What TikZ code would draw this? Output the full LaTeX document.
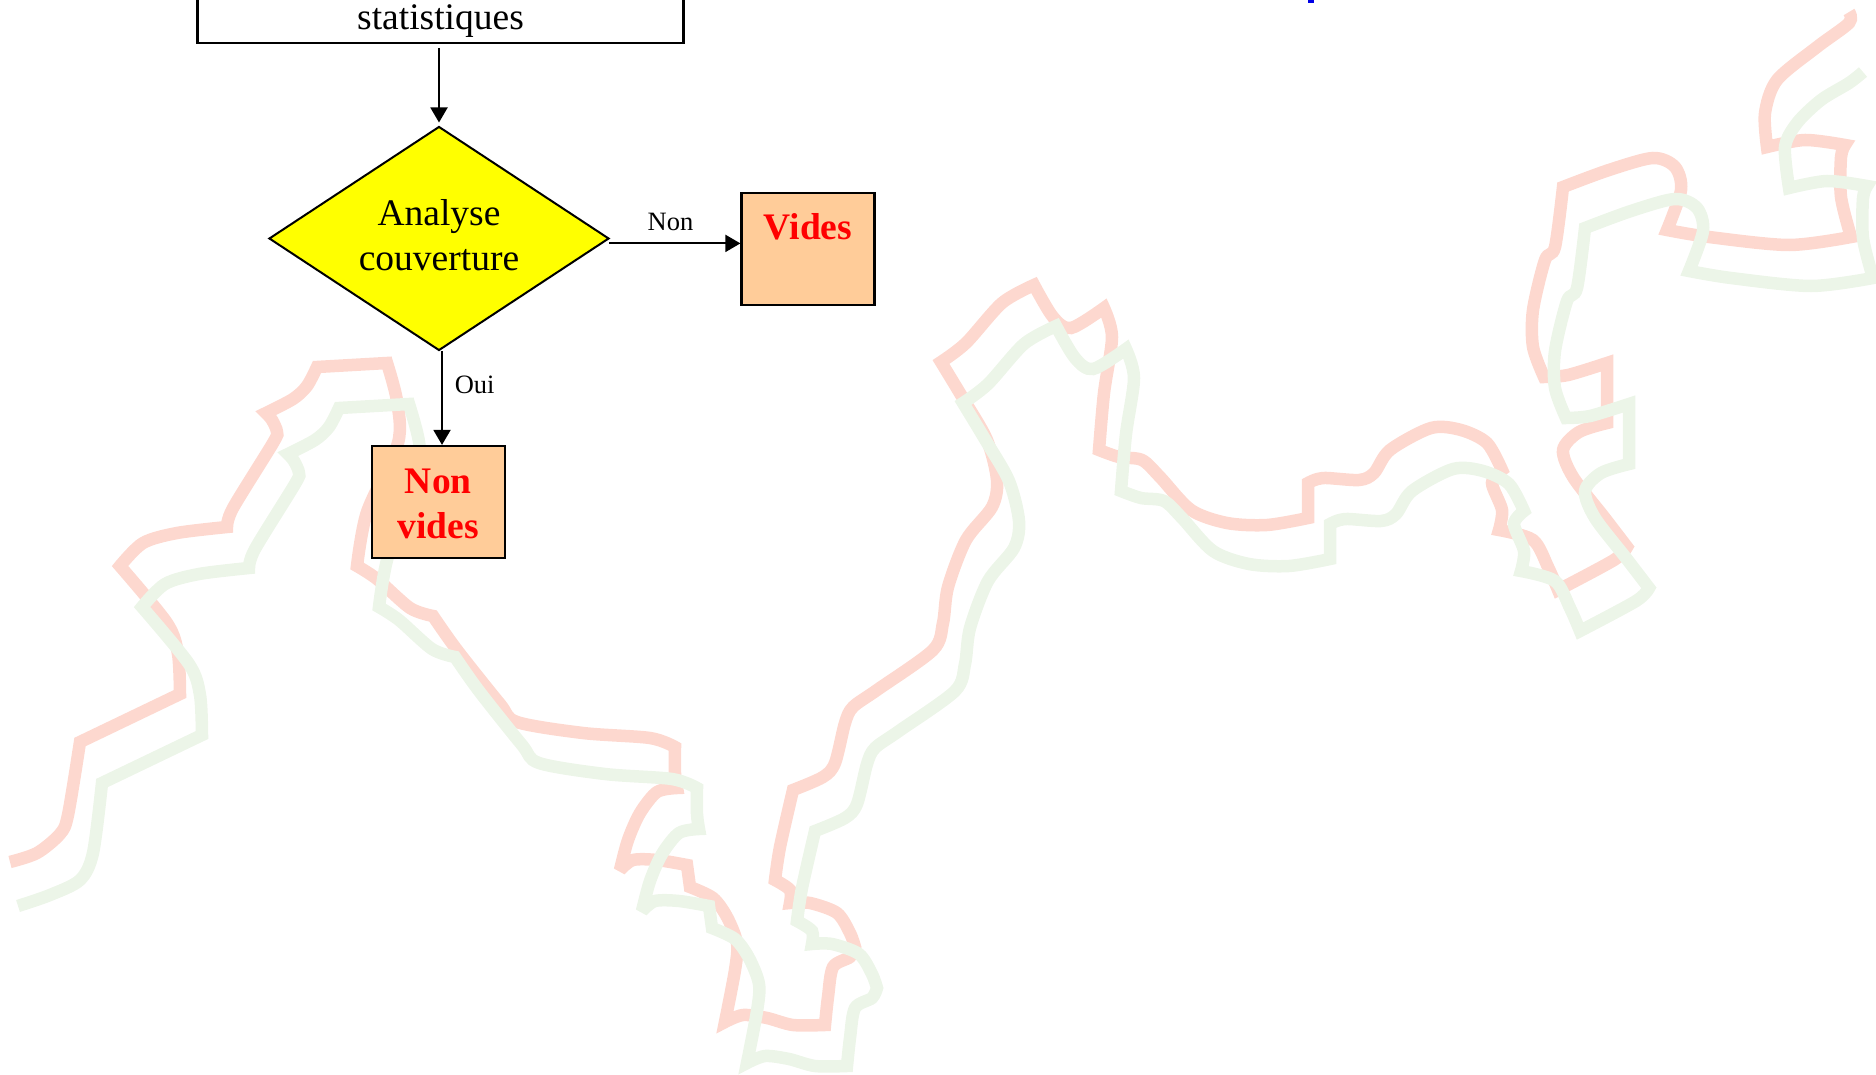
\documentclass[tikz,border=0pt]{standalone}
\usepackage{fontspec}
\setmainfont{Liberation Serif}
\usetikzlibrary{arrows.meta,shapes.geometric}
\definecolor{bandred}{RGB}{253,216,207}
\definecolor{bandgreen}{RGB}{236,245,232}
\definecolor{boxorange}{RGB}{255,204,153}
\definecolor{chartyellow}{RGB}{255,255,0}
\definecolor{chartred}{RGB}{255,0,0}
\definecolor{chartblue}{RGB}{0,0,230}
\tikzset{
  bigtext/.style={font=\fontsize{37.5}{45}\selectfont,align=center},
  procbox/.style={draw,line width=2.2pt,bigtext,inner sep=0pt},
  resultbox/.style={draw,line width=2.2pt,fill=boxorange,bigtext,text=chartred,
    inner sep=0pt,minimum width=133pt,minimum height=112pt},
  testbox/.style={draw,diamond,line width=2pt,fill=chartyellow,bigtext,inner sep=0pt,
    aspect=1.52,minimum width=340pt,minimum height=224pt},
  flow/.style={-{Triangle[length=15pt,width=17pt]},line width=1.9pt},
  smalllabel/.style={font=\fontsize{26.5}{30}\selectfont,inner sep=0pt},
  band/.style={line width=12.5pt,line join=miter,miter limit=3.5}
}
\newcommand{\run}[1]{-- plot[smooth,tension=.5] coordinates {#1}}
\newcommand{\riverline}{
  \run{(80,742) (180,694)}
  \run{(180,694) (178,654) (167,623) (120,566)}
  \run{(120,566) (143,543) (177,533) (227,527)}
  \run{(227,527) (233,508) (273,443) (277,432) (272,420) (266,413)}
  \run{(266,413) (293,399) (307,386) (317,367)}
  \run{(317,367) (387,363)}
  \run{(387,363) (397,401) (398,443) (367,512) (357,566)}
  \run{(357,566) (377,579) (410,608) (433,616)}
  \run{(433,616) (457,650) (500,704) (517,722) (583,733) (650,738) (675,747)}
  \run{(675,747) (675,773) (677,788)}
  \run{(677,788) (657,792) (640,813) (628,840) (620,870)}
  \run{(620,870) (633,860) (657,860) (687,865)}
  \run{(687,865) (690,887)}
  \run{(690,887) (713,898) (727,917) (737,943) (735,970) (725,1022)}
  \run{(725,1022) (743,1015) (767,1018) (793,1025) (825,1025)}
  \run{(825,1025) (828,997) (833,967) (850,957) (855,947)}
  \run{(855,947) (850,933) (837,913) (810,903) (790,903)}
  \run{(790,903) (790,890) (775,880)}
  \run{(775,880) (780,847) (793,790)}
  \run{(793,790) (823,777) (835,763) (845,723) (853,707) (877,690) (933,650)
    (943,623) (948,587) (966,540) (992,507) (997,480) (987,440) (964,400) (941,362)}
  \run{(941,362) (966,343) (1002,303) (1034,285)}
  \run{(1034,285) (1053,317) (1071,328) (1104,308)}
  \run{(1104,308) (1112,337) (1104,393) (1099,450)}
  \run{(1099,450) (1119,457) (1142,460) (1160,477) (1191,510) (1227,523) (1267,525) (1308,518)}
  \run{(1308,518) (1308,483)}
  \run{(1308,483) (1323,478) (1359,480) (1374,473) (1390,450) (1431,428) (1461,430) (1487,443) (1502,470)}
  \run{(1502,470) (1492,483) (1502,510) (1499,530)}
  \run{(1499,530) (1533,540) (1548,567) (1558,590)}
  \run{(1558,590) (1614,560) (1627,547)}
  \run{(1627,547) (1604,517) (1573,477) (1563,450) (1579,432) (1607,423)}
  \run{(1607,423) (1607,363)}
  \run{(1607,363) (1568,375) (1544,377)}
  \run{(1544,377) (1533,347) (1533,310) (1545,260) (1555,247) (1563,187)}
  \run{(1563,187) (1609,170) (1653,158) (1675,167) (1681,190) (1667,230)}
  \run{(1667,230) (1709,237) (1789,245) (1851,237)}
  \run{(1851,237) (1841,197) (1841,157) (1845,145)}
  \run{(1845,145) (1805,140) (1767,147)}
}
\begin{document}
\begin{tikzpicture}[x=1pt,y=-1pt]
    \useasboundingbox (0,0) rectangle (1876,1075);
    % the two bands behind the chart
    \draw[band,bandred] (10,862) plot[smooth,tension=.5] coordinates {(10,862) (37,853) (60,834) (68,815) (80,742)}
      \riverline \run{(1767,147) (1765,113) (1777,80) (1817,47) (1849,23) (1849,12)};
    \draw[band,bandgreen,shift={(22,41)}] (-4,865) plot[smooth,tension=.5] coordinates {(-4,865) (28,854) (58,839) (71,812) (80,742)}
      \riverline \run{(1767,147) (1763,106) (1775,82) (1799,59) (1827,42) (1841,31)};
    \fill[chartblue] (1308,-4) rectangle (1314,3);
    % chart
    \node[procbox,anchor=south,minimum width=486pt,inner ysep=5pt] (stats) at (440.5,44) {~\\statistiques};
    \node[testbox] (couv) at (439,238.5) {Analyse\\couverture\rule[-8pt]{0pt}{0pt}};
    \node[resultbox] (vides) at (808,248.7) {\textbf{Vides}\\~};
    \node[resultbox] (nonvides) at (438.3,502) {\rule{0pt}{28.5pt}\textbf{Non}\\\textbf{vides}};
    \coordinate (start) at (439,48);
    \coordinate (right) at (609,243.4);
    \coordinate (down) at (442,351);
    \draw[flow,shorten >=3pt] (start) -- (couv.north);
    \draw[flow] (right) -- (right -| vides.west);
    \draw[flow] (down) -- (down |- nonvides.north);
    \node[smalllabel,anchor=base] (non) at (670.5,231) {Non};
    \node[smalllabel,anchor=base west] (oui) at (454.6,393) {Oui};
\end{tikzpicture}
\end{document}
